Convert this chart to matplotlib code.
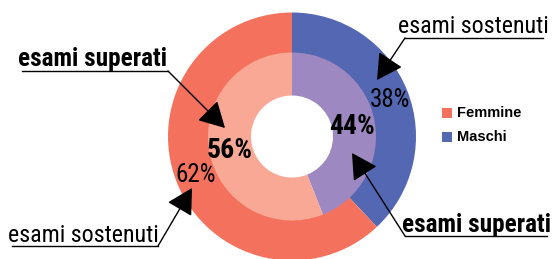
import matplotlib
matplotlib.use("Agg")
import matplotlib.pyplot as plt

# data
groups = ["Maschi", "Femmine"]
sostenuti = [38, 62]   # outer ring
superati = [44, 56]    # inner ring
outer_colors = ["#5467B2", "#F4725D"]
inner_colors = ["#9E88C1", "#F8A895"]

W, H = 552, 259
narrow = ["Roboto Condensed", "DejaVu Sans"]
wide = ["Liberation Sans", "DejaVu Sans"]

fig = plt.figure(figsize=(W / 100, H / 100), dpi=100)
ax = fig.add_axes([0, 0, 1, 1])

cx, cy = 292, H - 136.5
ax.pie(sostenuti, colors=outer_colors, startangle=90, counterclock=False,
       radius=124, center=(cx, cy), frame=True,
       wedgeprops=dict(width=41, linewidth=0))
ax.pie(superati, colors=inner_colors, startangle=90, counterclock=False,
       radius=84, center=(cx, cy), frame=True,
       wedgeprops=dict(width=43, linewidth=0))

ax.set_xlim(0, W)
ax.set_ylim(0, H)
ax.set_aspect("equal")
ax.axis("off")

def px(x, y):
    return x, H - y

# percent labels
ax.text(*px(390, 100), f"{sostenuti[0]}%", ha="center", va="center",
        fontsize=18, family=narrow)
ax.text(*px(196, 175), f"{sostenuti[1]}%", ha="center", va="center",
        fontsize=18, family=narrow)
ax.text(*px(352, 127), f"{superati[0]}%", ha="center", va="center",
        fontsize=20, fontweight="bold", family=narrow)
ax.text(*px(230, 150), f"{superati[1]}%", ha="center", va="center",
        fontsize=20, fontweight="bold", family=narrow)

# callouts: text, bold, text x, baseline y, underline x0,x1,y, arrow start, tip
callouts = [
    ("esami superati", True, 18, 66, 22, 168, 71, (168, 71), (225, 128)),
    ("esami sostenuti", False, 398, 33, 405, 543, 38, (405, 38), (377, 80)),
    ("esami sostenuti", False, 8, 242, 12, 158, 246, (158, 246), (192, 188)),
    ("esami superati", True, 402, 232, 405, 547, 236, (405, 236), (352, 153)),
]
for txt, bold, tx, ty, u0, u1, uy, start, tip in callouts:
    ax.text(*px(tx, ty), txt, ha="left", va="baseline",
            fontsize=18.2 if bold else 17.3,
            fontweight="bold" if bold else "normal", family=narrow)
    ax.plot([u0, u1], [H - uy, H - uy], color="black", lw=1)
    ax.annotate("", xy=px(*tip), xytext=px(*start),
                arrowprops=dict(arrowstyle="-|>,head_length=0.4,head_width=0.22",
                                mutation_scale=40, color="black", lw=1,
                                shrinkA=0, shrinkB=0))

# legend
for i, (name, col) in enumerate(zip(["Femmine", "Maschi"], [outer_colors[1], outer_colors[0]])):
    y = 113 + i * 24
    ax.add_patch(plt.Rectangle((442, H - y - 5), 10, 10, color=col, lw=0))
    ax.text(*px(457, y), name, ha="left", va="center", fontsize=10.5,
            fontweight="bold", family=wide)

fig.savefig("out.png", dpi=100)
